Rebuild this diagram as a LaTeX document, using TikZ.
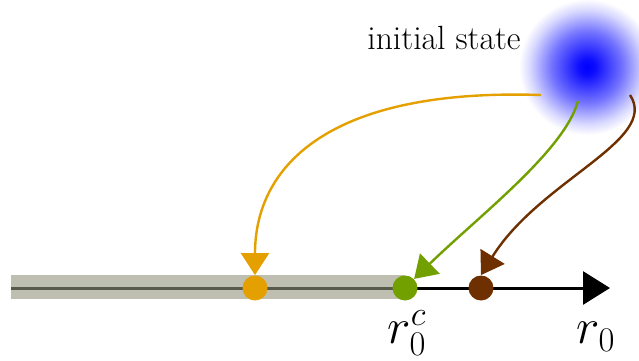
\documentclass[tikz,border=0pt]{standalone}
\usetikzlibrary{arrows.meta}
\definecolor{corange}{RGB}{228,160,0}
\definecolor{cgreen}{RGB}{114,160,0}
\definecolor{cbrown}{RGB}{110,48,0}
\definecolor{cband}{RGB}{147,147,125}
\pgfdeclareradialshading{blob}{\pgfpoint{0bp}{0bp}}{color(0bp)=(blue); color(3bp)=(blue!95); color(13bp)=(blue!55); color(21bp)=(blue!15); color(25bp)=(white); color(50bp)=(white)}
\tikzset{
  dot/.style={circle, inner sep=0pt, minimum size=12.5pt},
  conn/.style={line width=1.2pt, -{Triangle[length=11pt,width=14pt]}},
  lab/.style={font=\fontsize{27}{32}\selectfont},
}
\begin{document}
\begin{tikzpicture}[x=0.5pt,y=-0.5pt]
\useasboundingbox (0,0) rectangle (639,360);
% axis
\coordinate (axstart) at (11,288);
\coordinate (axend) at (610,288);
\draw[line width=1.5pt, -{Triangle[length=13.5pt,width=16.5pt]}] (axstart) -- (axend);
% band
\fill[cband, opacity=0.6] (11,275) rectangle (405,299);
% blob
\shade[shading=blob] (587,67) circle (68);
\node[circle, minimum size=66pt, inner sep=0pt] (init) at (587,67) {};
\node[font=\fontsize{16.8}{19}\selectfont] (txt) at (444,38) {initial state};
% dots
\node[dot, fill=corange] (dO) at (255,288) {};
\node[dot, fill=cgreen] (dG) at (405,288) {};
\node[dot, fill=cbrown] (dB) at (481,288) {};
% labels
\node[lab] (rc) at (407,333) {$r_0^c$};
\node[lab] (r0) at (596,337) {$r_0$};
% connectors
\coordinate (sO) at (541,95);
\coordinate (sG) at (578,101);
\coordinate (sB) at (630,95);
\draw[conn, corange] (sO) .. controls (330,88) and (255,165) .. (dO.north);
\draw[conn, cgreen] (sG) .. controls (565,150) and (480,215) .. (dG.45);
\draw[conn, cbrown] (sB) .. controls (660,140) and (540,180) .. (dB.north);
\end{tikzpicture}
\end{document}
